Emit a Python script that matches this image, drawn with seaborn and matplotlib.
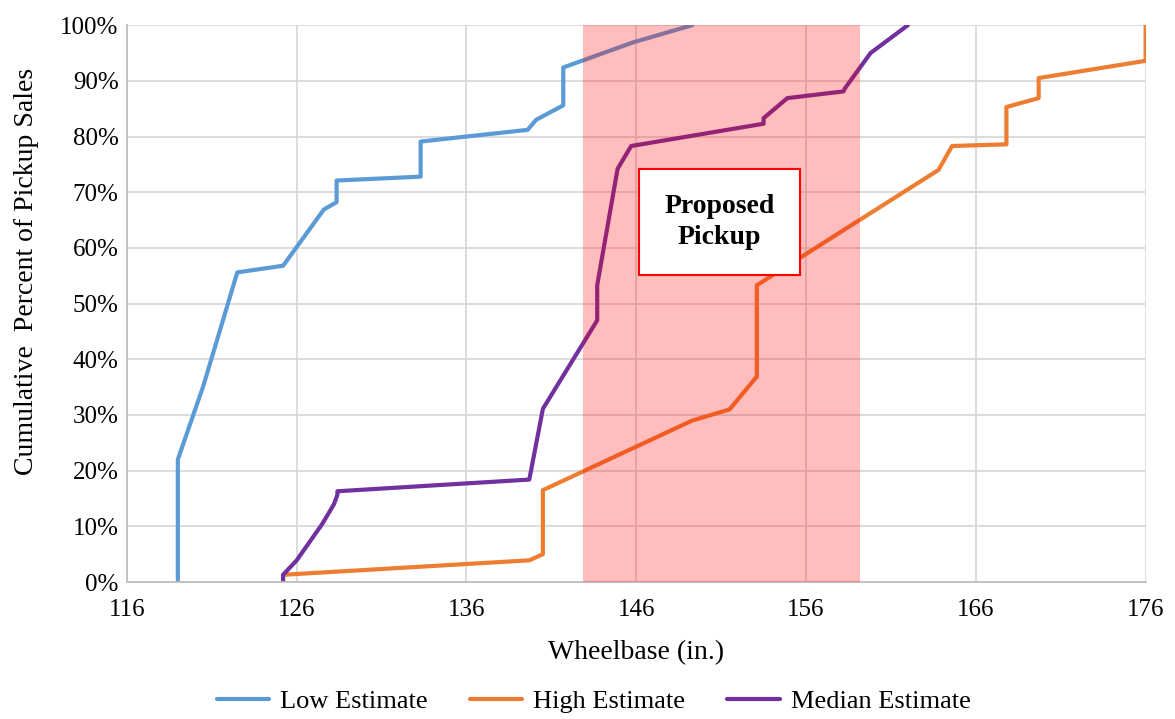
import matplotlib
matplotlib.use('Agg')
import matplotlib.pyplot as plt
from matplotlib.ticker import PercentFormatter, MultipleLocator
import seaborn as sns
import pandas as pd

# cumulative share of pickup sales vs wheelbase
low_x = [119.0, 119.0, 120.5, 122.5, 125.2, 127.6, 128.35, 128.35, 133.3, 133.3,
         139.6, 140.1, 141.7, 141.7, 145.8, 149.3]
low_y = [0.0, 22.0, 35.2, 55.6, 56.8, 66.9, 68.2, 72.1, 72.8, 79.1,
         81.2, 83.0, 85.6, 92.4, 96.9, 100.0]

high_x = [125.2, 139.7, 140.5, 140.5, 149.3, 151.5, 153.1, 153.1, 163.8, 164.6,
          167.8, 167.8, 169.7, 169.7, 176.0, 176.0]
high_y = [1.3, 3.9, 5.0, 16.5, 29.0, 31.0, 36.9, 53.3, 74.0, 78.3,
          78.6, 85.3, 86.9, 90.5, 93.6, 100.0]

med_x = [125.2, 125.2, 126.0, 127.5, 128.2, 128.4, 128.4, 139.7, 140.5, 143.7,
         143.7, 144.9, 145.7, 153.5, 153.5, 154.9, 158.2, 158.3, 159.8, 162.0]
med_y = [0.0, 1.3, 3.9, 10.4, 14.0, 15.7, 16.3, 18.4, 31.1, 47.0,
         53.3, 74.2, 78.3, 82.3, 83.3, 86.9, 88.1, 88.7, 95.0, 100.0]

series_names = ['Low Estimate', 'High Estimate', 'Median Estimate']
series_colors = ['#5B9BD5', '#ED7D31', '#7030A0']
x_ticks = [116, 126, 136, 146, 156, 166, 176]
proposed_range = (142.85, 159.17)

frames = []
for name, xs, ys in zip(series_names, [low_x, high_x, med_x], [low_y, high_y, med_y]):
    frames.append(pd.DataFrame({'wheelbase': xs, 'pct': ys, 'series': name}))
df = pd.concat(frames, ignore_index=True)

sns.set_style('white')
plt.rcParams['font.family'] = ['Liberation Serif', 'DejaVu Serif']
plt.rcParams['text.color'] = 'black'
plt.rcParams['axes.labelcolor'] = 'black'
plt.rcParams['xtick.color'] = 'black'
plt.rcParams['ytick.color'] = 'black'

fig = plt.figure(figsize=(11.75, 7.19), dpi=100)
ax = fig.add_axes([0.108, 0.1905, 0.867, 0.7745])

sns.lineplot(data=df, x='wheelbase', y='pct', hue='series', hue_order=series_names,
             palette=series_colors, sort=False, estimator=None, units='series',
             linewidth=3, ax=ax, zorder=2)

# shaded band sits on top of the lines, like in the original
ax.axvspan(*proposed_range, color='#FF0000', alpha=0.26, lw=0, zorder=3)

ax.text(150.9, 64.7, 'Proposed\nPickup', ha='center', va='center', fontsize=20,
        fontweight='bold', linespacing=1.3, zorder=5,
        bbox=dict(boxstyle='square,pad=0.9', fc='white', ec='#FF0000', lw=1.5))

ax.set_xlim(116, 176)
ax.set_ylim(0, 100)
ax.set_xticks(x_ticks)
ax.yaxis.set_major_locator(MultipleLocator(10))
ax.yaxis.set_major_formatter(PercentFormatter(decimals=0))
ax.grid(True, color='#D9D9D9', lw=1.3, zorder=0)
ax.set_axisbelow(True)
for s in ['top', 'right']:
    ax.spines[s].set_visible(False)
for s in ['left', 'bottom']:
    ax.spines[s].set_color('#BFBFBF')
    ax.spines[s].set_linewidth(1.3)
ax.tick_params(length=0, labelsize=18)
ax.tick_params(axis='x', pad=12)
ax.tick_params(axis='y', pad=6)

ax.set_xlabel('Wheelbase (in.)', fontsize=20, labelpad=14)
ax.set_ylabel('Cumulative  Percent of Pickup Sales', fontsize=20)
ax.yaxis.set_label_coords(-0.086, 0.558)

ax.legend(loc='upper center', bbox_to_anchor=(0.458, -0.15), ncol=3, frameon=False,
          fontsize=19, handlelength=2.0, handletextpad=0.4, columnspacing=1.6)

fig.savefig('out.png', dpi=100)
